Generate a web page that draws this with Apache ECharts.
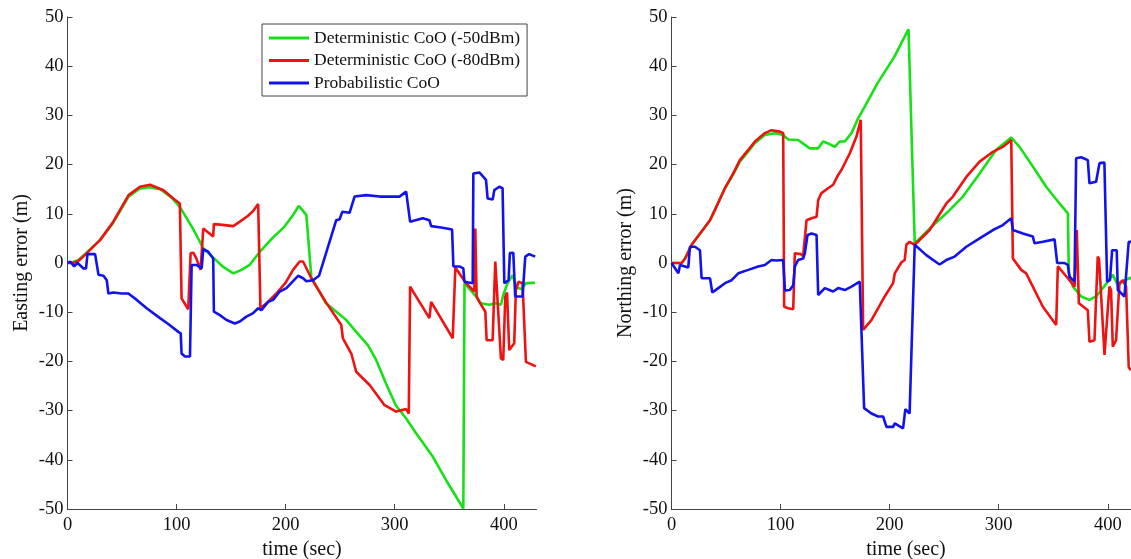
<!DOCTYPE html>
<html>
<head>
<meta charset="utf-8">
<script src="https://cdn.jsdelivr.net/npm/echarts@6/dist/echarts.min.js"></script>
<style>
  html, body { margin: 0; padding: 0; background: #fff; }
  #chart { width: 1131px; height: 559px; }
</style>
</head>
<body>
<div id="chart"></div>
<script>
// Series names
const seriesNames = ['Deterministic CoO (-50dBm)', 'Deterministic CoO (-80dBm)', 'Probabilistic CoO'];
const xTicks = [0, 100, 200, 300, 400];
const yTicks = [-50, -40, -30, -20, -10, 0, 10, 20, 30, 40, 50];

// Easting error (m) vs time (sec)
const eastGreen = [[0,0],[5,0.2],[10,0.6],[17,2],[30,4.7],[42,8.2],[56,13.5],[66,15.1],[75,15.4],[85,15],[95,13.4],[103,11.4],[115,7],[124.5,3],[133.6,1.1],[142.8,-0.8],[152,-2.1],[159.5,-1.4],[167,-0.4],[176,2.2],[188.5,5.2],[199,7.4],[207,9.8],[212,11.6],[219,9.8],[223.6,-3],[237,-8.2],[255.6,-11.6],[264.7,-14],[275.4,-16.7],[283,-19.7],[292,-24.5],[301,-28.9],[310.5,-31.6],[319.6,-34.6],[335,-39.4],[347,-44.1],[362.9,-49.9],[364,-4.1],[374.5,-6.8],[379,-8.2],[386.7,-8.5],[392.8,-8.2],[397.4,-8.5],[399.5,-6.5],[403.5,-4.1],[408,-2.5],[412,-5],[416,-5.3],[420.5,-4.1],[428.7,-4]];
const eastRed = [[0,0],[5,0],[10,0.4],[17.7,2],[30,4.7],[42,8.4],[56,13.8],[66.5,15.5],[75.7,15.9],[88,14.8],[97,13.1],[103,12.1],[104.6,-7.2],[110.7,-9.4],[112.9,2],[115.3,2.1],[118,1],[122,-1.4],[123.5,-1],[124.5,7],[129,6.2],[133.6,5.4],[134.2,7.9],[140,7.8],[152,7.5],[158,8.4],[165,9.5],[170,10.5],[174.8,12],[176.9,-9.2],[182.4,-8.2],[191.5,-6.2],[200,-4],[206.8,-1.4],[212.9,0.3],[216,0.3],[223.6,-3.1],[237,-8],[251,-12.6],[252.5,-15.3],[260.2,-18.4],[264.7,-22.1],[277,-24.8],[290.7,-28.9],[301.3,-30.2],[310.5,-29.7],[312.9,-30.6],[314.1,-4.8],[331.8,-11.2],[333.4,-7.9],[353.2,-15.3],[355.6,-0.9],[365.4,-4.1],[373,-5.8],[373.9,7],[375.1,-6.8],[377.6,-7.9],[383.1,-9.9],[384.3,-15.7],[389.8,-15.7],[392.2,0.3],[393.5,0.5],[397.4,-19.4],[399.5,-19.7],[401.4,-6.8],[403,-6],[405,-17.7],[409.6,-16.3],[411.1,-5.5],[413.6,-3.8],[417.2,-4.1],[420.3,-20.1],[426.4,-20.7],[429.4,-21]];
const eastBlue = [[0,0],[2.5,0.3],[6.1,-0.7],[9.2,0],[14.7,-1.1],[17,-1.1],[18.3,1.8],[25.3,1.8],[28.4,-2.4],[33,-2.6],[36,-3.5],[37.5,-6.2],[42.1,-6],[49.7,-6.2],[55.8,-6.2],[63.5,-7.5],[72.6,-9.2],[84.8,-11.2],[92.4,-12.4],[101.6,-14],[103.8,-14.3],[104.6,-18.4],[107.7,-19],[112.3,-19],[113.8,-0.4],[118.4,-0.4],[123,-1.1],[124.5,2.8],[129,2.3],[133.6,0.9],[134.2,-9.9],[139.7,-10.6],[145.8,-11.6],[153.4,-12.3],[158,-11.9],[164,-10.9],[170.2,-10.2],[174.8,-9.2],[177.8,-9.6],[183.9,-7.9],[188.5,-7.5],[194.6,-5.8],[200.7,-5.1],[211.4,-2.6],[216,-3.1],[219,-3.7],[225.1,-3.5],[230.6,-2.6],[246.4,8.7],[249.5,8.9],[251.9,10.4],[258.6,10.2],[263.2,13.5],[273.9,13.8],[286.1,13.5],[295.2,13.5],[304.4,13.5],[310.5,14.5],[312.3,14.8],[314.1,8.4],[325.7,9.1],[331.8,8.7],[333.4,7.5],[342.5,7.2],[352.6,6.8],[353.8,-0.7],[359.3,-0.7],[362.9,-1.1],[363.9,-3.8],[371.5,-4.1],[372.1,18.2],[377.6,18.4],[383.7,16.9],[385.2,13.1],[389.8,12.9],[391.3,14.8],[395.9,15.5],[398.9,15.2],[400.5,-4.1],[404.4,-3.5],[405.6,2],[408.7,2.1],[410.5,-6.8],[417.2,-6.8],[419.7,1.3],[423.3,1.8],[428.8,1.3]];

// Northing error (m) vs time (sec)
const northGreen = [[0,0],[9.3,0],[12.4,0.9],[18.5,3.7],[27.6,6.4],[35.3,8.7],[39.8,10.8],[49,15.2],[56.6,18],[62.7,20.6],[70.4,22.7],[76.5,24.4],[85.6,26],[94.8,26.4],[102.4,26],[107,25.1],[116.1,25],[122.3,24],[126.8,23.3],[134.5,23.3],[139,24.7],[143.6,24.3],[149.7,23.6],[154.3,24.7],[158.9,24.7],[165,26.4],[171.1,29.4],[177.2,31.8],[188.8,36.5],[204.3,41.9],[212.1,45.3],[217.3,47.5],[223,4],[236.7,7],[252,10.1],[267.2,13.5],[282.5,18.2],[297.7,23],[311.5,25.5],[319.1,23.6],[331.3,19.6],[343.5,15.5],[355.7,12.1],[363.4,10.1],[364.3,-2.1],[368,-4.8],[375.6,-6.8],[383.2,-7.5],[389.3,-6.8],[395.4,-5.1],[400,-3.8],[404.6,-2.4],[409.2,-4.5],[415.3,-3.5],[420.8,-3],[425,-4]];
const northRed = [[0,0],[9.3,0],[12.4,0.9],[18.5,3.7],[27.6,6.4],[35.3,8.7],[39.8,10.8],[49,15.2],[56.6,18.2],[62.7,20.9],[70.4,23],[76.5,24.7],[85.6,26.4],[91.7,27],[99.4,26.7],[102.4,26.4],[103.3,-8.9],[107,-9.2],[111.6,-9.4],[113.1,2],[114.6,2.3],[118.6,1.8],[120.7,1.4],[123.8,8.7],[128.4,9.1],[133,9.4],[134.5,12.8],[137.5,14.2],[143.6,15.2],[148.2,15.9],[152.8,17.9],[155.8,18.9],[163.5,22.3],[169.6,25.7],[173.5,29.1],[175.7,-13.6],[183.3,-11.6],[189.4,-9.2],[195.5,-6.8],[203.2,-4.1],[204.7,-2.1],[210.7,0.1],[213.8,0.6],[215.3,3.7],[218.4,4.3],[223,3.7],[236.7,6.7],[252,12.1],[258,13.5],[270.3,17.5],[282.5,20.6],[294.7,22.6],[303.8,23.6],[311.5,25],[313,0.9],[320.6,-1.4],[325.2,-2.1],[331.3,-4.8],[340.5,-8.9],[352.7,-12.6],[354.2,-0.7],[363.4,-3.1],[369.5,-4.8],[371.6,6.7],[373.5,-8.2],[381.7,-9.6],[383.2,-16],[387.8,-15.7],[390.8,1.3],[392,0.8],[397,-18.7],[398.5,-19],[401.5,-4.8],[403,-5.5],[404.6,-17],[407.6,-15.7],[410.7,-4.1],[413.7,-3.5],[416.8,-4.8],[419.2,-21.1],[421,-21.8]];
const northBlue = [[0,0],[1.7,0],[6.3,-2.1],[7.8,-0.4],[15.4,-0.9],[16.9,3.3],[21.5,3.3],[26.1,2.6],[27.6,-3.1],[35.3,-3.1],[37.4,-6],[42.9,-5.1],[49,-4.1],[55.1,-3.5],[61.2,-2.1],[70.4,-1.4],[79.5,-0.7],[85.6,-0.4],[91.7,0.6],[96.3,0.5],[102.4,0.6],[104,-5.6],[108.5,-5.5],[111.6,-4.5],[113.1,-0.7],[116.1,0.6],[120.7,0.9],[122.3,2],[124.7,5.7],[128.4,6],[133,5.7],[134.5,-6.5],[140.6,-5.1],[148.2,-5.8],[152.8,-5.1],[158.9,-5.5],[165,-4.8],[172.6,-3.8],[174.2,-3.8],[176.6,-29.5],[183.3,-30.6],[189.4,-31.2],[194,-31.2],[197.1,-33.3],[203.2,-33.3],[204.7,-32.6],[212.3,-33.6],[214.4,-29.7],[218.3,-30.6],[223,3.7],[233.6,1.6],[245.8,-0.3],[251.9,0.6],[259.6,1.3],[270.3,3.3],[282.5,5],[294.7,6.7],[303.8,7.7],[311.5,9.1],[313,6.7],[322.2,6],[331.3,5.4],[332.8,4],[340.5,4.3],[351.2,4.8],[353.6,0],[360.3,0],[363.4,-0.4],[364.9,-2.8],[369.5,-3.8],[371,21.3],[375.6,21.5],[381.7,20.9],[383.2,16.2],[389.3,16.5],[392.4,20.3],[396.9,20.4],[399.4,-3.8],[402,-3.5],[404,2.6],[408.2,2.6],[409.2,-5.5],[415.3,-6.8],[419.2,4.3],[422,4.3]];

const colors = ['#16e016', '#ee1212', '#1212ee'];
const serif = '"Liberation Serif", "Times New Roman", serif';

function xAxisFor(gridIndex) {
  return {
    type: 'value', gridIndex, min: 0, max: 430, interval: 100,
    name: 'time (sec)', nameLocation: 'middle', nameGap: 31,
    nameTextStyle: { fontFamily: serif, fontSize: 20, color: '#111' },
    axisLine: { show: true, onZero: false, lineStyle: { color: '#444', width: 1 } },
    axisTick: { show: true, inside: true, length: 5, lineStyle: { color: '#444' }, customValues: xTicks },
    axisLabel: { fontFamily: serif, fontSize: 18.5, color: '#111', margin: 7, customValues: xTicks },
    splitLine: { show: false }
  };
}

function yAxisFor(gridIndex, title) {
  return {
    type: 'value', gridIndex, min: -50, max: 50, interval: 10,
    name: title, nameLocation: 'middle', nameGap: 36,
    nameTextStyle: { fontFamily: serif, fontSize: 20, color: '#111' },
    axisLine: { show: true, onZero: false, lineStyle: { color: '#444', width: 1 } },
    axisTick: { show: true, inside: true, length: 5, lineStyle: { color: '#444' }, customValues: yTicks },
    axisLabel: { fontFamily: serif, fontSize: 18.5, color: '#111', margin: 4, customValues: yTicks },
    splitLine: { show: false }
  };
}

function lineSeries(name, data, idx, axisIdx) {
  return {
    name, type: 'line', data,
    xAxisIndex: axisIdx, yAxisIndex: axisIdx,
    showSymbol: false, symbol: 'none', smooth: false,
    lineStyle: { color: colors[idx], width: 2.6 },
    itemStyle: { color: colors[idx] },
    z: 2 + idx
  };
}

const chart = echarts.init(document.getElementById('chart'), null, { renderer: 'canvas' });
chart.setOption({
  animation: false,
  backgroundColor: '#fff',
  grid: [
    { left: 67.5, top: 17, width: 469, height: 492, containLabel: false, outerBoundsMode: 'none' },
    { left: 671.5, top: 17, width: 469, height: 492, containLabel: false, outerBoundsMode: 'none' }
  ],
  xAxis: [xAxisFor(0), xAxisFor(1)],
  yAxis: [yAxisFor(0, 'Easting error (m)'), yAxisFor(1, 'Northing error (m)')],
  legend: {
    data: seriesNames,
    orient: 'vertical',
    left: 262, top: 24,
    padding: [5, 7, 4, 7],
    itemGap: 4.5,
    itemWidth: 40, itemHeight: 3,
    icon: 'rect',
    borderColor: '#444', borderWidth: 1,
    backgroundColor: '#fff',
    textStyle: { fontFamily: serif, fontSize: 17.5, color: '#111', lineHeight: 17.5 }
  },
  series: [
    lineSeries(seriesNames[0], eastGreen, 0, 0),
    lineSeries(seriesNames[1], eastRed, 1, 0),
    lineSeries(seriesNames[2], eastBlue, 2, 0),
    lineSeries(seriesNames[0], northGreen, 0, 1),
    lineSeries(seriesNames[1], northRed, 1, 1),
    lineSeries(seriesNames[2], northBlue, 2, 1)
  ]
});
</script>
</body>
</html>
